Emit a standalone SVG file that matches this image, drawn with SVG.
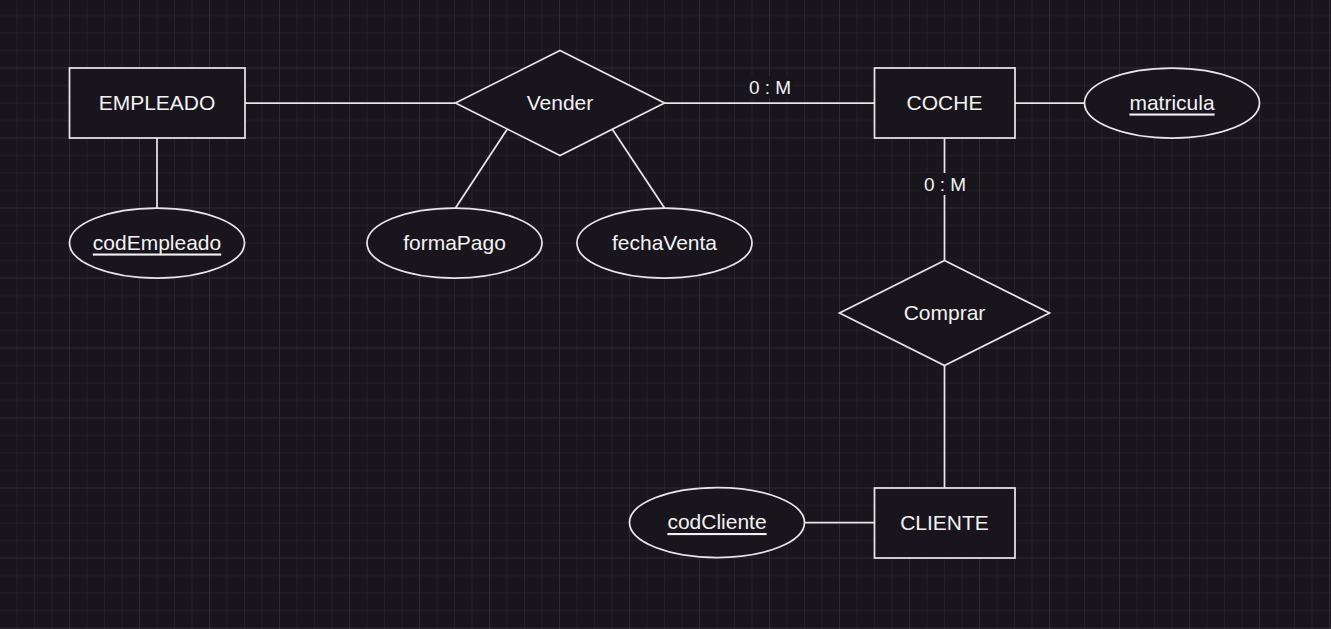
<svg xmlns="http://www.w3.org/2000/svg" width="1331" height="629" viewBox="0 0 1331 629">
<defs>
<pattern id="grid" patternUnits="userSpaceOnUse" x="69" y="67.5" width="70" height="70">
<rect x="0" y="0" width="70" height="70" fill="#18151d"/>
<rect x="17.5" y="0" width="1" height="70" fill="#242129"/>
<rect x="35" y="0" width="1" height="70" fill="#242129"/>
<rect x="52.5" y="0" width="1" height="70" fill="#242129"/>
<rect x="0" y="17.5" width="70" height="1" fill="#242129"/>
<rect x="0" y="35" width="70" height="1" fill="#242129"/>
<rect x="0" y="52.5" width="70" height="1" fill="#242129"/>
<rect x="0" y="0" width="1" height="70" fill="#2e2b33"/>
<rect x="0" y="0" width="70" height="1" fill="#2e2b33"/>
</pattern>
</defs>
<style>
.shape{fill:#18151d;stroke:#e6e6e6;stroke-width:1.75}
.edge{fill:none;stroke:#e6e6e6;stroke-width:1.75}
.t{font-family:"Liberation Sans",Arial,sans-serif;font-size:21px;fill:#f2f2f2;text-anchor:middle;dominant-baseline:central}
.u{text-decoration:underline}
.lbl{font-family:"Liberation Sans",Arial,sans-serif;font-size:19px;fill:#f2f2f2;text-anchor:middle;dominant-baseline:central}
.lblbg{fill:#18151d}
</style>
<rect width="1331" height="629" fill="url(#grid)"/>
<g id="connectors">
<line class="edge" x1="245" y1="103" x2="455.5" y2="103"/>
<line class="edge" x1="664.5" y1="103" x2="874.5" y2="103"/>
<line class="edge" x1="157" y1="138" x2="157" y2="208"/>
<line class="edge" x1="507" y1="129.5" x2="455.5" y2="208"/>
<line class="edge" x1="612.5" y1="129.5" x2="664.5" y2="208"/>
<line class="edge" x1="1015" y1="103" x2="1084.5" y2="103"/>
<line class="edge" x1="944.5" y1="138" x2="944.5" y2="260.5"/>
<line class="edge" x1="944.5" y1="365.5" x2="944.5" y2="488"/>
<line class="edge" x1="804.5" y1="522.5" x2="874.5" y2="522.5"/>
<g id="label-vender-coche">
<rect class="lblbg" x="746" y="76" width="48" height="22"/>
<text class="lbl" x="770" y="87">0 : M</text>
</g>
<g id="label-coche-comprar">
<rect class="lblbg" x="921" y="173" width="48" height="22"/>
<text class="lbl" x="945" y="184">0 : M</text>
</g>
</g>
<g id="empleado">
<rect class="shape" x="69.5" y="68" width="175.5" height="70"/>
<text class="t" x="157" y="102">EMPLEADO</text>
</g>
<g id="vender">
<polygon class="shape" points="560,50.5 664.5,103 560,155.5 455.5,103"/>
<text class="t" x="560" y="102">Vender</text>
</g>
<g id="coche">
<rect class="shape" x="874.5" y="68" width="140.5" height="70"/>
<text class="t" x="944.5" y="102">COCHE</text>
</g>
<g id="matricula">
<ellipse class="shape" cx="1172" cy="103" rx="87.5" ry="35"/>
<text class="t u" x="1172" y="102">matricula</text>
</g>
<g id="codEmpleado">
<ellipse class="shape" cx="157" cy="243" rx="87.5" ry="35"/>
<text class="t u" x="157" y="242">codEmpleado</text>
</g>
<g id="formaPago">
<ellipse class="shape" cx="454.5" cy="243" rx="87.5" ry="35"/>
<text class="t" x="454.5" y="242">formaPago</text>
</g>
<g id="fechaVenta">
<ellipse class="shape" cx="664.5" cy="243" rx="87.5" ry="35"/>
<text class="t" x="664.5" y="242">fechaVenta</text>
</g>
<g id="comprar">
<polygon class="shape" points="944.5,260.5 1049.5,313 944.5,365.5 839.5,313"/>
<text class="t" x="944.5" y="312">Comprar</text>
</g>
<g id="cliente">
<rect class="shape" x="874.5" y="488" width="140.5" height="70"/>
<text class="t" x="944.5" y="522">CLIENTE</text>
</g>
<g id="codCliente">
<ellipse class="shape" cx="717" cy="522.5" rx="87.5" ry="35"/>
<text class="t u" x="717" y="521.5">codCliente</text>
</g>
</svg>
